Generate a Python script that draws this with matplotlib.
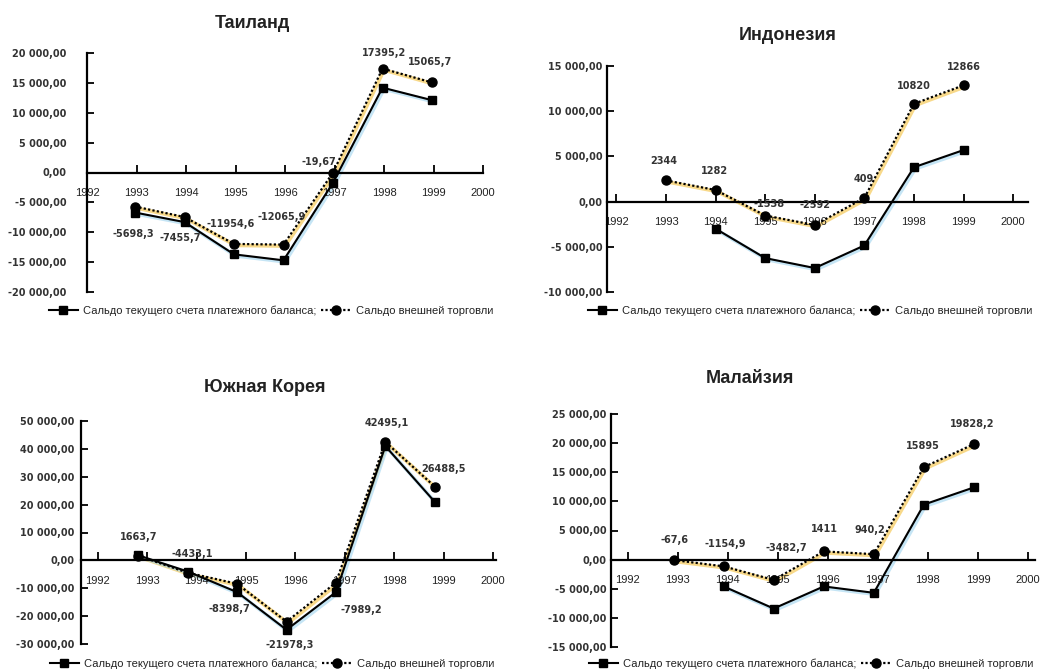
import matplotlib
matplotlib.use('Agg')

import numpy as np
import matplotlib.pyplot as plt
from matplotlib import transforms
from matplotlib.lines import Line2D
from matplotlib.ticker import FuncFormatter

######### данные (млн долл.)
YEARS = [1993, 1994, 1995, 1996, 1997, 1998, 1999]
AXIS_YEARS = [1992, 1993, 1994, 1995, 1996, 1997, 1998, 1999, 2000]

THAI_CA = [-6700, -8300, -13700, -14700, -1700, 14200, 12100]
THAI_TRADE = [-5698.3, -7455.7, -11954.6, -12065.9, -19.67, 17395.2, 15065.7]
THAI_LABELS = ["-5698,3", "-7455,7", "-11954,6", "-12065,9", "-19,67", "17395,2", "15065,7"]

INDO_CA = [np.nan, -3000, -6250, -7350, -4850, 3800, 5700]
INDO_TRADE = [2344, 1282, -1538, -2592, 409, 10820, 12866]
INDO_LABELS = ["2344", "1282", "-1538", "-2592", "409", "10820", "12866"]

KOREA_CA = [1800, -4000, -11400, -24900, -11400, 41000, 21000]
KOREA_TRADE = [1663.7, -4433.1, -8398.7, -21978.3, -7989.2, 42495.1, 26488.5]
KOREA_LABELS = ["1663,7", "-4433,1", "-8398,7", "-21978,3", "-7989,2", "42495,1", "26488,5"]

MALAY_CA = [np.nan, -4600, -8400, -4600, -5700, 9450, 12400]
MALAY_TRADE = [-67.6, -1154.9, -3482.7, 1411, 940.2, 15895, 19828.2]
MALAY_LABELS = ["-67,6", "-1154,9", "-3482,7", "1411", "940,2", "15895", "19828,2"]

CA_NAME = "Сальдо текущего счета платежного баланса;"
TRADE_NAME = "Сальдо внешней торговли"
######### конец данных

W, H = 1045, 670
TEXT_COLOR = "#333333"
YELLOW = "#f4c13d"
LIGHTBLUE = "#9fd4ef"
BOLD_FONT = ['DejaVu Sans']

# сдвиги подписей значений (пиксели)
THAI_OFFS = [(-2, -27), (-4, -21), (-3, 20), (-2, 28), (-14, 11), (2, 16), (-2, 20)]
INDO_OFFS = [(-2, 19), (-1, 19), (4, 12), (0, 20), (-1, 19), (0, 18), (0, 18)]
KOREA_OFFS = [(0, 19), (5, 19), (-8, -25), (3, -23), (25, -27), (1, 19), (9, 18)]
MALAY_OFFS = [(1, 20), (2, 22), (13, 32), (1, 22), (-4, 24), (-1, 21), (-2, 20)]


def fmt_money(v, pos=None):
    s = f"{abs(v):,.2f}".replace(",", " ").replace(".", ",")
    return ("-" if v < 0 else "") + s


def make_panel(fig, rect_px, xlim, ylim, ystep, ypad, title, title_xy, ca, trade,
               labels, offs, shift, legend_xy):
    left, top, right, bottom = rect_px
    ax = fig.add_axes([left / W, 1 - bottom / H, (right - left) / W, (bottom - top) / H])
    ax.set_xlim(*xlim)
    ax.set_ylim(*ylim)

    x = np.array(YEARS) + shift

    # цветная "тень" под линиями
    halo = transforms.offset_copy(ax.transData, fig=fig, x=1.5, y=-1.5, units='dots')
    ax.plot(x, trade, color=YELLOW, linewidth=2.6, transform=halo, zorder=1, alpha=0.6)
    ax.plot(x, ca, color=LIGHTBLUE, linewidth=2.6, transform=halo, zorder=1, alpha=0.6)

    ax.plot(x, ca, color="black", linewidth=1.5, marker="s", markersize=6, zorder=3)
    ax.plot(x, trade, color="black", linewidth=1.6, linestyle=(0, (1, 1)),
            marker="o", markersize=6.5, zorder=4)

    for xi, yi, lab, (dx, dy) in zip(x, trade, labels, offs):
        ax.annotate(lab, (xi, yi), xytext=(dx, dy), textcoords='offset pixels',
                    ha='center', va='center', fontsize=7, fontweight='bold',
                    family=BOLD_FONT, color=TEXT_COLOR, zorder=5)

    # оси
    for s in ['top', 'right']:
        ax.spines[s].set_visible(False)
    ax.spines['left'].set_linewidth(1.6)
    ax.spines['bottom'].set_position(('data', 0))
    ax.spines['bottom'].set_linewidth(1.6)
    ax.set_xticks(AXIS_YEARS)
    ax.set_xticklabels([str(y) for y in AXIS_YEARS])
    ax.tick_params(axis='x', direction='in', length=6, width=1.3, pad=11,
                   labelsize=8, labelcolor="#222222")
    ax.set_yticks(np.arange(ylim[0], ylim[1] + 1, ystep))
    ax.yaxis.set_major_formatter(FuncFormatter(fmt_money))
    ax.tick_params(axis='y', direction='in', length=5, width=1.3, pad=ypad,
                   labelsize=7, labelcolor=TEXT_COLOR)
    for t in ax.get_yticklabels():
        t.set_fontweight('bold')
        t.set_family(BOLD_FONT)
    ax.patch.set_alpha(0)

    fig.text(title_xy[0] / W, 1 - title_xy[1] / H, title, ha='center', va='center',
             fontsize=13, fontweight='bold', color="#222222")

    handles = [
        Line2D([], [], color="black", linewidth=1.5, marker="s", markersize=6),
        Line2D([], [], color="black", linewidth=1.6, linestyle=(0, (1, 1)),
               marker="o", markersize=6.5),
    ]
    fig.legend(handles, [CA_NAME, TRADE_NAME], loc='center', ncol=2,
               bbox_to_anchor=(legend_xy[0] / W, 1 - legend_xy[1] / H),
               bbox_transform=fig.transFigure, frameon=False, fontsize=8,
               handlelength=2.6, handletextpad=0.5, columnspacing=0.4,
               numpoints=1, labelcolor="#222222")
    return ax


plt.rcParams['font.family'] = ['Liberation Sans', 'DejaVu Sans']

fig = plt.figure(figsize=(W / 100, H / 100), dpi=100, facecolor='w')

make_panel(fig, (87, 53, 483, 292), (1992, 2000), (-20000, 20000), 5000, 15,
           "Таиланд", (252, 23), THAI_CA, THAI_TRADE, THAI_LABELS, THAI_OFFS,
           -0.03, (271, 311))
make_panel(fig, (607, 66, 1028, 292), (1991.81, 2000.3), (-10000, 15000), 5000, 3,
           "Индонезия", (788, 35), INDO_CA, INDO_TRADE, INDO_LABELS, INDO_OFFS,
           0.0, (810, 311))
make_panel(fig, (81, 421, 496, 644), (1991.66, 2000.06), (-30000, 50000), 10000, 5,
           "Южная Корея", (265, 388), KOREA_CA, KOREA_TRADE, KOREA_LABELS, KOREA_OFFS,
           -0.18, (272, 664))
make_panel(fig, (611, 414, 1035, 647), (1991.67, 2000.14), (-15000, 25000), 5000, 3.5,
           "Малайзия", (750, 378), MALAY_CA, MALAY_TRADE, MALAY_LABELS, MALAY_OFFS,
           -0.08, (811, 664))

fig.savefig("out.png", dpi=100, facecolor='w')
